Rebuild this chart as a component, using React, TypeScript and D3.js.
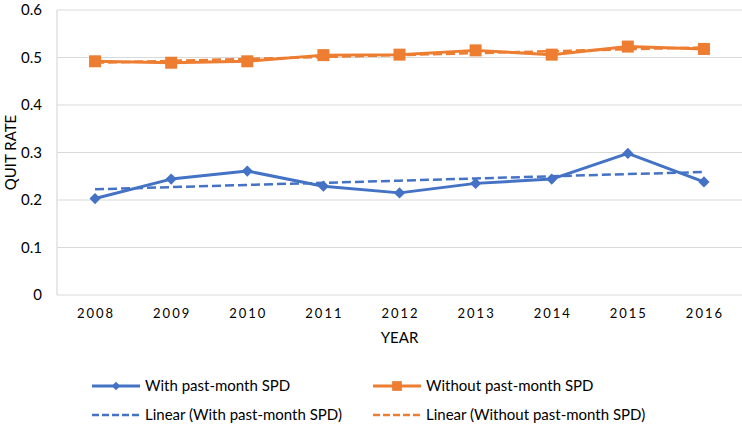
import React, {useEffect, useRef} from "react";
import * as d3 from "d3";

const years = ["2008", "2009", "2010", "2011", "2012", "2013", "2014", "2015", "2016"];
const withSPD = [0.203, 0.244, 0.261, 0.229, 0.215, 0.235, 0.244, 0.298, 0.238];
const withoutSPD = [0.492, 0.489, 0.492, 0.505, 0.506, 0.515, 0.506, 0.523, 0.518];
const yTicks = [0, 0.1, 0.2, 0.3, 0.4, 0.5, 0.6];

const BLUE = "#4472C4";
const ORANGE = "#ED7D31";
const FONT = "Lato, 'Noto Sans', sans-serif";

// least squares trend line over the index
function trend(vals: number[]) {
    const n = vals.length;
    const mx = (n - 1) / 2;
    const my = d3.mean(vals) as number;
    let num = 0, den = 0;
    vals.forEach((v, i) => { num += (i - mx) * (v - my); den += (i - mx) * (i - mx); });
    const b = num / den;
    return vals.map((_, i) => my + b * (i - mx));
}

export default function App() {
    const svgRef = useRef<SVGSVGElement>(null);

    useEffect(() => {
        const left = 57, right = 742, top = 10, bottom = 295;
        const svg = d3.select(svgRef.current);
        svg.selectAll("*").remove();

        const x = d3.scaleBand().domain(years).range([left, right]);
        const y = d3.scaleLinear().domain([0, 0.6]).range([bottom, top]);
        const cx = (yr: string) => (x(yr) as number) + x.bandwidth() / 2;

        // grid
        svg.append("g").selectAll("line").data(yTicks).join("line")
            .attr("x1", left).attr("x2", right)
            .attr("y1", d => y(d)).attr("y2", d => y(d))
            .attr("stroke", "#d9d9d9").attr("stroke-width", 1.2);
        svg.append("line").attr("x1", left).attr("x2", left).attr("y1", top).attr("y2", bottom)
            .attr("stroke", "#d9d9d9").attr("stroke-width", 1.2);

        // y labels
        svg.append("g").selectAll("text").data(yTicks).join("text")
            .attr("x", 42).attr("y", d => y(d)).attr("dy", "0.35em")
            .attr("text-anchor", "end").attr("font-size", 15).attr("font-family", FONT)
            .attr("fill", "#000").text(d => d3.format("")(Math.round(d * 10) / 10));

        // x labels
        svg.append("g").selectAll("text").data(years).join("text")
            .attr("x", d => cx(d) + 1).attr("y", 318)
            .attr("text-anchor", "middle").attr("font-size", 13).attr("letter-spacing", 2)
            .attr("font-family", FONT).attr("fill", "#000").text(d => d);

        svg.append("text").attr("x", (left + right) / 2).attr("y", 343).attr("text-anchor", "middle")
            .attr("font-size", 15).attr("font-family", FONT).text("YEAR");
        svg.append("text").attr("transform", `translate(16, ${(top + bottom) / 2}) rotate(-90)`)
            .attr("text-anchor", "middle").attr("font-size", 15).attr("font-family", FONT).text("QUIT RATE");

        const line = d3.line<number>().x((_, i) => cx(years[i])).y(d => y(d));

        // trend lines
        svg.append("path").attr("d", line(trend(withSPD))).attr("fill", "none")
            .attr("stroke", BLUE).attr("stroke-width", 2.5).attr("stroke-dasharray", "9,4");
        svg.append("path").attr("d", line(trend(withoutSPD))).attr("fill", "none")
            .attr("stroke", ORANGE).attr("stroke-width", 2.5).attr("stroke-dasharray", "9,4");

        // data lines
        svg.append("path").attr("d", line(withSPD)).attr("fill", "none")
            .attr("stroke", BLUE).attr("stroke-width", 3).attr("stroke-linejoin", "round");
        svg.append("path").attr("d", line(withoutSPD)).attr("fill", "none")
            .attr("stroke", ORANGE).attr("stroke-width", 3).attr("stroke-linejoin", "round");

        const diamond = d3.symbol().type(d3.symbolDiamond2).size(80);
        const square = d3.symbol().type(d3.symbolSquare).size(144);

        svg.append("g").selectAll("path").data(withSPD).join("path")
            .attr("d", diamond).attr("fill", BLUE)
            .attr("transform", (d, i) => `translate(${cx(years[i])},${y(d)})`);
        svg.append("g").selectAll("path").data(withoutSPD).join("path")
            .attr("d", square).attr("fill", ORANGE)
            .attr("transform", (d, i) => `translate(${cx(years[i])},${y(d)})`);

        // legend
        const legend = [
            {label: "With past-month SPD", color: BLUE, dash: null, sym: "d", x: 92, y: 386},
            {label: "Without past-month SPD", color: ORANGE, dash: null, sym: "s", x: 373, y: 386},
            {label: "Linear (With past-month SPD)", color: BLUE, dash: "7,3", sym: null, x: 92, y: 415},
            {label: "Linear (Without past-month SPD)", color: ORANGE, dash: "7,3", sym: null, x: 373, y: 415},
        ];
        const lg = svg.append("g").selectAll("g").data(legend).join("g")
            .attr("transform", d => `translate(${d.x},${d.y})`);
        lg.append("line").attr("x1", 0).attr("x2", 48).attr("y1", 0).attr("y2", 0)
            .attr("stroke", d => d.color).attr("stroke-width", d => d.dash ? 2.5 : 3)
            .attr("stroke-dasharray", d => d.dash);
        lg.filter(d => d.sym !== null).append("path")
            .attr("d", d => (d.sym === "d"
                ? d3.symbol().type(d3.symbolDiamond2).size(45)
                : d3.symbol().type(d3.symbolSquare).size(95))())
            .attr("transform", "translate(24,0)").attr("fill", d => d.color);
        lg.append("text").attr("x", 53).attr("dy", "0.35em").attr("font-size", 15)
            .attr("font-family", FONT).attr("fill", "#000").text(d => d.label);
    }, []);

    return (
        <svg ref={svgRef} width={742} height={425}
             style={{position: "absolute", left: 0, top: 0, background: "white"}} />
    );
}
